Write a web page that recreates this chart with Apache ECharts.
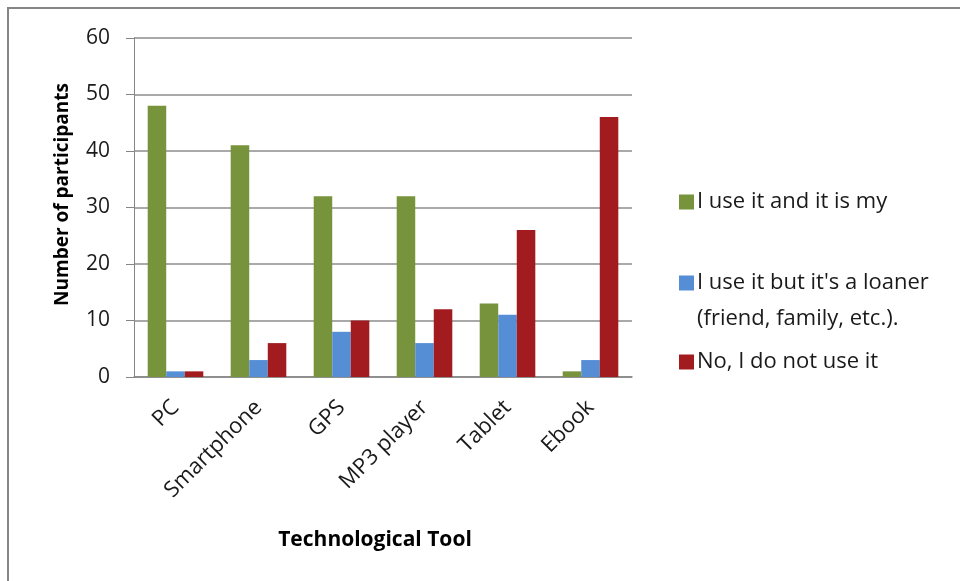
<!DOCTYPE html>
<html>
<head>
<meta charset="utf-8">
<script src="https://cdn.jsdelivr.net/npm/echarts@6/dist/echarts.min.js"></script>
<style>
  html, body { margin: 0; padding: 0; background: #ffffff; }
  #chart { width: 960px; height: 581px; }
</style>
</head>
<body>
<div id="chart"></div>
<script>
// Technology ownership survey: participants per tool and usage status
const categories = ['PC', 'Smartphone', 'GPS', 'MP3 player', 'Tablet', 'Ebook'];
const seriesNames = [
  'I use it and it is my',
  "I use it but it's a loaner\n(friend, family, etc.).",
  'No, I do not use it'
];
const ownValues = [48, 41, 32, 32, 13, 1];
const loanerValues = [1, 3, 8, 6, 11, 3];
const notUsedValues = [1, 6, 10, 12, 26, 46];
const yTicks = [0, 10, 20, 30, 40, 50, 60];

const colors = ['#77933C', '#558ED5', '#A21B1F'];
const FONT = '"Open Sans", Lato, sans-serif';
const LEGEND_LINE = 36;

const chart = echarts.init(document.getElementById('chart'), null, { renderer: 'canvas' });

// One legend block per series so each entry can sit at its own height.
function legendFor(i, top, formatter) {
  const cfg = {
    data: [seriesNames[i]],
    left: 674,
    top: top,
    orient: 'vertical',
    icon: 'rect',
    itemWidth: 15,
    itemHeight: 15,
    itemGap: 0,
    selectedMode: false,
    textStyle: { fontFamily: FONT, fontSize: 22, color: '#1a1a1a', lineHeight: LEGEND_LINE, padding: [0, 0, 0, -2] }
  };
  if (formatter) cfg.formatter = formatter;
  return cfg;
}

chart.setOption({
  animation: false,
  backgroundColor: '#ffffff',
  color: colors,
  textStyle: { fontFamily: FONT },
  graphic: [{
    type: 'rect',
    shape: { x: 8, y: 8, width: 1000, height: 1000 },
    style: { fill: 'none', stroke: '#858585', lineWidth: 2 },
    silent: true
  }],
  grid: { left: 134, right: 328, top: 38, bottom: 204, containLabel: false },
  legend: [
    legendFor(0, 179),
    // leading blank line keeps the swatch level with the first text line
    legendFor(1, 224, name => '\n' + name),
    legendFor(2, 339)
  ],
  xAxis: {
    type: 'category',
    data: categories,
    name: 'Technological Tool',
    nameLocation: 'middle',
    nameGap: 153,
    nameTextStyle: { fontFamily: FONT, fontSize: 21, fontWeight: 'bold', color: '#000', padding: [0, 16, 0, 0] },
    axisLine: { lineStyle: { color: '#868686', width: 1.5 } },
    axisTick: { show: false },
    axisLabel: { rotate: 45, margin: 27, fontFamily: FONT, fontSize: 22, color: '#1a1a1a' }
  },
  yAxis: {
    type: 'value',
    min: 0,
    max: 60,
    interval: 10,
    name: 'Number of participants',
    nameLocation: 'middle',
    nameGap: 62,
    nameTextStyle: { fontFamily: FONT, fontSize: 19, fontWeight: 'bold', color: '#000', padding: [0, 0, 0, 26] },
    axisLine: { show: true, lineStyle: { color: '#868686', width: 1 } },
    axisTick: { show: true, inside: false, length: 8, lineStyle: { color: '#868686' } },
    axisLabel: {
      margin: 24, fontFamily: FONT, fontSize: 21, color: '#1a1a1a',
      formatter: v => (yTicks.includes(v) ? String(v) : '')
    },
    splitLine: { lineStyle: { color: '#8c8c8c', width: 1.5 } }
  },
  series: [
    { name: seriesNames[0], type: 'bar', data: ownValues, barGap: '0%', barCategoryGap: '33%',
      itemStyle: { color: colors[0] } },
    { name: seriesNames[1], type: 'bar', data: loanerValues, barGap: '0%', barCategoryGap: '33%',
      itemStyle: { color: colors[1] } },
    { name: seriesNames[2], type: 'bar', data: notUsedValues, barGap: '0%', barCategoryGap: '33%',
      itemStyle: { color: colors[2] } }
  ]
});
</script>
</body>
</html>
